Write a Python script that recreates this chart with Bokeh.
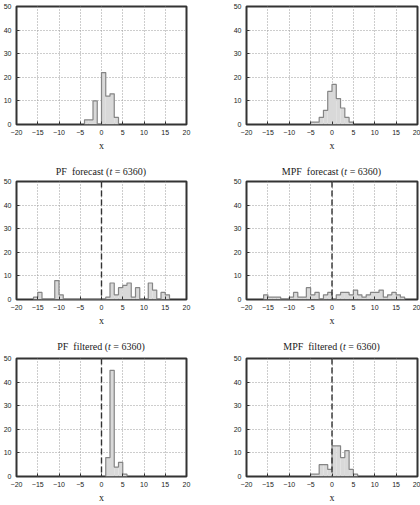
from bokeh.plotting import figure
from bokeh.layouts import column, row
from bokeh.models import FixedTicker, Span, Div
from bokeh.embed import file_html
from bokeh.resources import INLINE

# ---- data (bin width 1, counts of 64 particles) ----
bin_width = 1
true_state = 0.0
x_ticks = [-20, -15, -10, -5, 0, 5, 10, 15, 20]
y_ticks = [0, 10, 20, 30, 40, 50]

pf_init_start = -4
pf_init_counts = [2, 2, 10, 0, 22, 12, 13, 3]

mpf_init_start = -5
mpf_init_counts = [1, 1, 3, 6, 14, 17, 11, 7, 3, 1]

pf_fc_start = -16
pf_fc_counts = [1, 3, 0, 0, 0, 8, 2, 0, 0, 0, 0, 0, 0, 0, 0, 0,
                0, 1, 7, 2, 5, 6, 7, 1, 5, 0, 0, 7, 4, 0, 3, 2]

mpf_fc_start = -16
mpf_fc_counts = [2, 1, 1, 1, 0, 0, 1, 3, 1, 1, 5, 2, 3, 0, 2, 3, 0,
                 2, 3, 3, 2, 4, 2, 1, 2, 3, 3, 4, 1, 2, 3, 2, 1]

pf_filt_start = 1
pf_filt_counts = [8, 45, 4, 6, 1]

mpf_filt_start = -5
mpf_filt_counts = [1, 1, 5, 5, 3, 13, 13, 8, 11, 3, 1]

title_pf_fc = ("PF", "forecast", "6360")
title_mpf_fc = ("MPF", "forecast", "6360")
title_pf_filt = ("PF", "filtered", "6360")
title_mpf_filt = ("MPF", "filtered", "6360")

FW_L, FW_R, FH = 170, 171, 118
LW, RW = 216, 204
LB, LR, RB, RR = 16, 30, 30, 3


def make_panel(start, counts, width, height, bl, br, bt, bb, truth=False):
    p = figure(width=width, height=height, x_range=(-20, 20), y_range=(0, 50),
               output_backend="svg", toolbar_location=None,
               min_border_left=bl, min_border_right=br,
               min_border_top=bt, min_border_bottom=bb)
    p.background_fill_color = "white"
    p.border_fill_color = "white"
    p.outline_line_color = "#333333"
    p.outline_line_width = 2

    lefts = [start + i * bin_width for i in range(len(counts))]
    rights = [l + bin_width for l in lefts]
    p.quad(left=lefts, right=rights, top=counts, bottom=0,
           fill_color="#d9d9d9", line_color=None)
    xs = [lefts[0]] + lefts + [rights[-1]]
    ys = [0] + list(counts) + [0]
    p.step(x=xs, y=ys, mode="after", line_color="#858585", line_width=1.2)

    if truth:
        p.add_layout(Span(location=true_state, dimension="height",
                          line_color="#333333", line_width=1.4, line_dash="6 3"))

    p.xaxis.ticker = FixedTicker(ticks=x_ticks)
    p.yaxis.ticker = FixedTicker(ticks=y_ticks)
    for ax in (p.xaxis, p.yaxis):
        ax.axis_line_color = None
        ax.major_tick_in = 3
        ax.major_tick_out = 0
        ax.major_tick_line_color = "#333333"
        ax.minor_tick_line_color = None
        ax.major_label_text_font = "Liberation Sans"
        ax.major_label_text_font_size = "7px"
        ax.major_label_text_color = "#222222"
    p.xaxis.major_label_standoff = 5
    p.yaxis.major_label_standoff = 5
    p.xaxis.axis_label = "x"
    p.xaxis.axis_label_text_font = "Liberation Serif"
    p.xaxis.axis_label_text_font_size = "10px"
    p.xaxis.axis_label_text_font_style = "normal"
    p.xaxis.axis_label_text_color = "#222222"
    p.xaxis.axis_label_standoff = 2

    p.grid.grid_line_color = "#9a9a9a"
    p.grid.grid_line_dash = "1 2"
    p.grid.grid_line_width = 1
    return p


def make_title(parts, width, offset, fw, height):
    method, kind, step = parts
    html = (f'<div style="margin-left:{offset}px;width:{fw}px;padding-top:12px;'
            f'text-align:center;white-space:pre;font-family:\'Liberation Serif\',serif;'
            f'font-size:10px;line-height:12px;color:#222222">'
            f'{method}  {kind} (<i>t</i> = {step})</div>')
    return Div(text=html, width=width, height=height, margin=(0, 0, 0, 0))


p1 = make_panel(pf_init_start, pf_init_counts, LW, 154, LB, LR, 6, 30)
p2 = make_panel(mpf_init_start, mpf_init_counts, RW, 154, RB, RR, 6, 30)
p3 = make_panel(pf_fc_start, pf_fc_counts, LW, 152, LB, LR, 4, 30, True)
p4 = make_panel(mpf_fc_start, mpf_fc_counts, RW, 152, RB, RR, 4, 30, True)
p5 = make_panel(pf_filt_start, pf_filt_counts, LW, 151, LB, LR, 4, 29, True)
p6 = make_panel(mpf_filt_start, mpf_filt_counts, RW, 151, RB, RR, 4, 29, True)

t3 = make_title(title_pf_fc, LW, LB, FW_L, 23)
t4 = make_title(title_mpf_fc, RW, RB, FW_R, 23)
t5 = make_title(title_pf_filt, LW, LB, FW_L, 25)
t6 = make_title(title_mpf_filt, RW, RB, FW_R, 25)

layout = column(row(p1, p2),
                row(column(t3, p3), column(t4, p4)),
                row(column(t5, p5), column(t6, p6)))

open("out.html", "w").write(file_html(layout, INLINE))
